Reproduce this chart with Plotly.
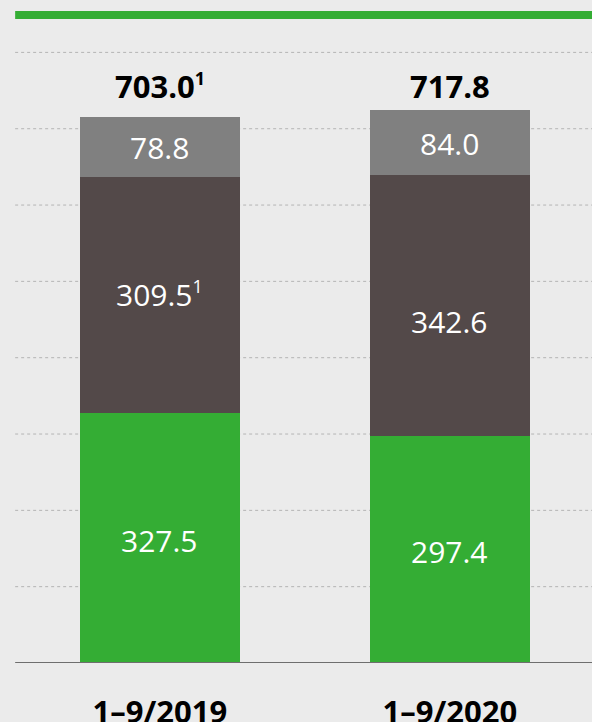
import plotly.graph_objects as go

categories = ["1–9/2019", "1–9/2020"]
seg_bottom = [327.5, 297.4]   # green
seg_middle = [309.5, 342.6]   # dark
seg_top = [78.8, 84.0]        # grey
seg_bottom_labels = ["327.5", "297.4"]
seg_middle_labels = ["309.5<sup><span style='font-size:18px'>1</span></sup>", "342.6"]
seg_top_labels = ["78.8", "84.0"]
total_labels = ["<b>703.0<sup><span style='font-size:18px'>1</span></sup></b>", "<b>717.8</b>"]
grid_values = [100, 200, 300, 400, 500, 600, 700, 800]

GREEN = "#34ad34"
DARK = "#534949"
GREY = "#808080"
BG = "#ebebeb"
FONT = "Open Sans"

fig = go.Figure()
for vals, col in [(seg_bottom, GREEN), (seg_middle, DARK), (seg_top, GREY)]:
    fig.add_trace(go.Bar(x=categories, y=vals, marker=dict(color=col, line=dict(width=0)),
                         width=0.553, hoverinfo="skip"))

ann = []
for i, c in enumerate(categories):
    b = seg_bottom[i]; m = seg_middle[i]; t = seg_top[i]
    ann.append(dict(x=c, y=b / 2, text=seg_bottom_labels[i], yshift=-2))
    ann.append(dict(x=c, y=b + m / 2, text=seg_middle_labels[i], yshift=(-16 if i == 1 else 0)))
    ann.append(dict(x=c, y=b + m + t / 2, text=seg_top_labels[i], yshift=-1))
annotations = [dict(a, xref="x", yref="y", showarrow=False,
                    font=dict(family=FONT, size=30, color="white")) for a in ann]
top = max(seg_bottom[i] + seg_middle[i] + seg_top[i] for i in range(2))
for i, c in enumerate(categories):
    annotations.append(dict(x=c, y=top + 32, xref="x", yref="y", text=total_labels[i],
                            showarrow=False, font=dict(family=FONT, size=31, color="black")))

shapes = []
for g in grid_values:
    shapes.append(dict(type="line", xref="paper", yref="y", x0=0.002, x1=1, y0=g, y1=g,
                       line=dict(color="#b4b4b4", width=1, dash="dot"), layer="below"))
shapes.append(dict(type="line", xref="paper", yref="y", x0=0.002, x1=1, y0=0, y1=0,
                   line=dict(color="#6e6e6e", width=2), layer="above"))
shapes.append(dict(type="line", xref="paper", yref="paper", x0=0.002, x1=1, y0=1, y1=1,
                   line=dict(color=GREEN, width=8), layer="above"))

fig.update_layout(
    width=592, height=722,
    margin=dict(l=14, r=0, t=15, b=59),
    paper_bgcolor=BG, plot_bgcolor=BG,
    barmode="stack", showlegend=False, bargap=0,
    xaxis=dict(range=[-0.503, 1.49], showgrid=False, zeroline=False, showline=False,
               automargin=False,
               ticks="outside", ticklen=22, tickcolor="rgba(0,0,0,0)",
               tickfont=dict(family=FONT, size=31, color="black"),
               tickvals=categories, ticktext=["<b>%s</b>" % c for c in categories]),
    yaxis=dict(range=[0, 849], showgrid=False, zeroline=False, showticklabels=False,
               showline=False, automargin=False),
    annotations=annotations, shapes=shapes,
)
fig.write_html("out.html", config={"displayModeBar": False}, post_script=(
    "document.body.style.margin='0';document.body.style.padding='0';"
    "document.body.style.overflow='hidden';document.body.style.background='#ebebeb';"))
